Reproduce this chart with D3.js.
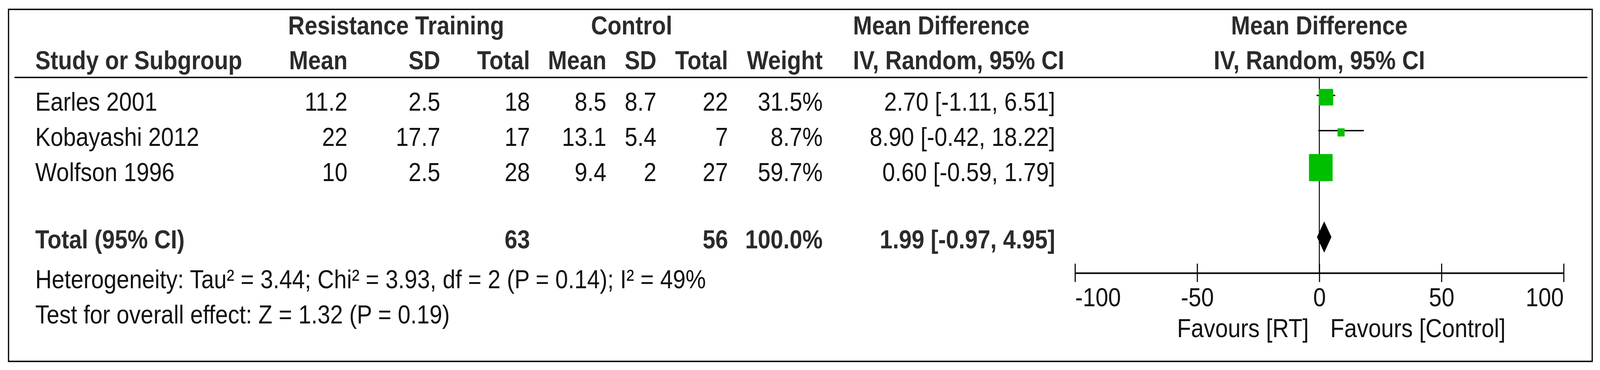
<!DOCTYPE html>
<html>
<head>
<meta charset="utf-8">
<script src="https://cdn.jsdelivr.net/npm/d3@7"></script>
<style>
  html, body { margin: 0; padding: 0; background: #fff; overflow: hidden; width: 100%; height: 100%; }
  #chart { width: 100vw; height: 100vh; }
  svg { display: block; width: 100vw; height: 100vh; }
  text { font-family: "Liberation Sans", Arial, Helvetica, sans-serif; }
</style>
</head>
<body>
<div id="chart"></div>
<script>
// ---------- data ----------
const studies   = ["Earles 2001", "Kobayashi 2012", "Wolfson 1996"];
const rtMean    = [11.2, 22, 10];
const rtSD      = [2.5, 17.7, 2.5];
const rtTotal   = [18, 17, 28];
const ctMean    = [8.5, 13.1, 9.4];
const ctSD      = [8.7, 5.4, 2];
const ctTotal   = [22, 7, 27];
const weights   = [31.5, 8.7, 59.7];
const mdValues  = [2.70, 8.90, 0.60];
const ciLow     = [-1.11, -0.42, -0.59];
const ciHigh    = [6.51, 18.22, 1.79];

const totalLabel  = "Total (95% CI)";
const totalRT     = 63;
const totalCT     = 56;
const totalWeight = 100.0;
const totalMD     = 1.99;
const totalLow    = -0.97;
const totalHigh   = 4.95;

const axisTicks   = [-100, -50, 0, 50, 100];
const heterogeneityText = "Heterogeneity: Tau\u00B2 = 3.44; Chi\u00B2 = 3.93, df = 2 (P = 0.14); I\u00B2 = 49%";
const overallText = "Test for overall effect: Z = 1.32 (P = 0.19)";
const favLeft  = "Favours [RT]";
const favRight = "Favours [Control]";

// ---------- layout ----------
const W = 4314, H = 946;
const SX = 0.92;                 // horizontal squeeze of the original figure
const X = v => v / SX;            // image px -> inner coordinates
const FS = 67;
const boldFill = "#2b2b2b", regFill = "#111";

const svg = d3.select("#chart").append("svg")
  .attr("viewBox", `0 0 ${W} ${H}`)
  .attr("preserveAspectRatio", "none");

const g = svg.append("g").attr("transform", `scale(${SX},1)`);

// outer frame
g.append("rect")
  .attr("x", X(23)).attr("y", 24)
  .attr("width", X(4293) - X(23)).attr("height", 900)
  .attr("fill", "none").attr("stroke", "#000").attr("stroke-width", 3.6);

// header rule
g.append("line")
  .attr("x1", X(39)).attr("x2", X(4280))
  .attr("y1", 198).attr("y2", 198)
  .attr("stroke", "#000").attr("stroke-width", 3.4);

// scales
const xs = d3.scaleLinear().domain([-100, 100]).range([X(2898.5), X(4216)]);
const rowBase = d3.scaleLinear().domain([0, 1]).range([283, 373]);
const sizeScale = d3.scaleLinear().domain([0, 100]).range([12.4, 107.7]);

// columns (right edges in image px)
const col = {
  study: X(95), rtMean: X(937), rtSD: X(1187), rtTotal: X(1429),
  ctMean: X(1635), ctSD: X(1770), ctTotal: X(1963), weight: X(2218),
  mdLeft: X(2300), mdRight: X(2845)
};

function txt(x, y, s, anchor, bold) {
  return g.append("text")
    .attr("x", x).attr("y", y)
    .attr("text-anchor", anchor)
    .attr("font-size", FS)
    .attr("font-weight", bold ? "bold" : "normal")
    .attr("fill", bold ? boldFill : regFill)
    .text(s);
}
const f2 = v => v.toFixed(2);          // keeps ASCII hyphen for negatives
const ciText = (m, l, h) => `${f2(m)} [${f2(l)}, ${f2(h)}]`;

// header row 1
txt(X(1068), 88, "Resistance Training", "middle", true);
txt(X(1703), 88, "Control", "middle", true);
txt(col.mdLeft, 88, "Mean Difference", "start", true);
txt(xs(0), 88, "Mean Difference", "middle", true);

// header row 2
txt(col.study, 177, "Study or Subgroup", "start", true);
txt(col.rtMean, 177, "Mean", "end", true);
txt(col.rtSD, 177, "SD", "end", true);
txt(col.rtTotal, 177, "Total", "end", true);
txt(col.ctMean, 177, "Mean", "end", true);
txt(col.ctSD, 177, "SD", "end", true);
txt(col.ctTotal, 177, "Total", "end", true);
txt(col.weight, 177, "Weight", "end", true);
txt(col.mdLeft, 177, "IV, Random, 95% CI", "start", true);
txt(xs(0), 177, "IV, Random, 95% CI", "middle", true);

// zero line
g.append("line")
  .attr("x1", xs(0)).attr("x2", xs(0))
  .attr("y1", 198).attr("y2", 698)
  .attr("stroke", "#000").attr("stroke-width", 2.8);

// study rows
studies.forEach((name, i) => {
  const by = rowBase(i);
  txt(col.study, by, name, "start", false);
  txt(col.rtMean, by, String(rtMean[i]), "end", false);
  txt(col.rtSD, by, String(rtSD[i]), "end", false);
  txt(col.rtTotal, by, String(rtTotal[i]), "end", false);
  txt(col.ctMean, by, String(ctMean[i]), "end", false);
  txt(col.ctSD, by, String(ctSD[i]), "end", false);
  txt(col.ctTotal, by, String(ctTotal[i]), "end", false);
  txt(col.weight, by, weights[i].toFixed(1) + "%", "end", false);
  txt(col.mdRight, by, ciText(mdValues[i], ciLow[i], ciHigh[i]), "end", false);

  const cy = by - 39;
  g.append("line")
    .attr("x1", xs(ciLow[i])).attr("x2", xs(ciHigh[i]))
    .attr("y1", cy).attr("y2", cy)
    .attr("stroke", "#000").attr("stroke-width", 3.6);
  const s = sizeScale(weights[i]);
  g.append("rect")
    .attr("x", xs(mdValues[i]) - s / 2)
    .attr("y", cy + 4.5 - s / 2)
    .attr("width", s).attr("height", s)
    .attr("fill", "#00BF00");
});

// total row
const ty = 635;
txt(col.study, ty, totalLabel, "start", true);
txt(col.rtTotal, ty, String(totalRT), "end", true);
txt(col.ctTotal, ty, String(totalCT), "end", true);
txt(col.weight, ty, totalWeight.toFixed(1) + "%", "end", true);
txt(col.mdRight, ty, ciText(totalMD, totalLow, totalHigh), "end", true);

const dy = 606, dh = 40;
g.append("polygon")
  .attr("points", [
    [xs(totalLow), dy], [xs(totalMD), dy - dh],
    [xs(totalHigh), dy], [xs(totalMD), dy + dh]
  ].map(p => p.join(",")).join(" "))
  .attr("fill", "#000");

// footer text
txt(col.study, 737, heterogeneityText, "start", false);
txt(col.study, 827, overallText, "start", false);

// axis
const axis = d3.axisBottom(xs).tickValues(axisTicks).tickSizeInner(23).tickSizeOuter(0)
  .tickFormat(d => String(d));
const ag = g.append("g").attr("transform", "translate(0,698)").call(axis);
ag.attr("font-size", FS);
ag.select(".domain").attr("stroke", "#000").attr("stroke-width", 3.8);
ag.selectAll(".tick line").attr("y1", -24).attr("y2", 23)
  .attr("stroke", "#000").attr("stroke-width", 3.2);
ag.selectAll(".tick text")
  .attr("y", 85).attr("dy", 0)
  .attr("font-size", FS)
  .attr("font-family", "'Liberation Sans', Arial, sans-serif")
  .attr("fill", regFill)
  .attr("text-anchor", (d, i) => i === 0 ? "start" : (i === axisTicks.length - 1 ? "end" : "middle"));

// favours labels
txt(xs(0) - X(28.5), 862, favLeft, "end", false);
txt(xs(0) + X(29.5), 862, favRight, "start", false);
</script>
</body>
</html>
